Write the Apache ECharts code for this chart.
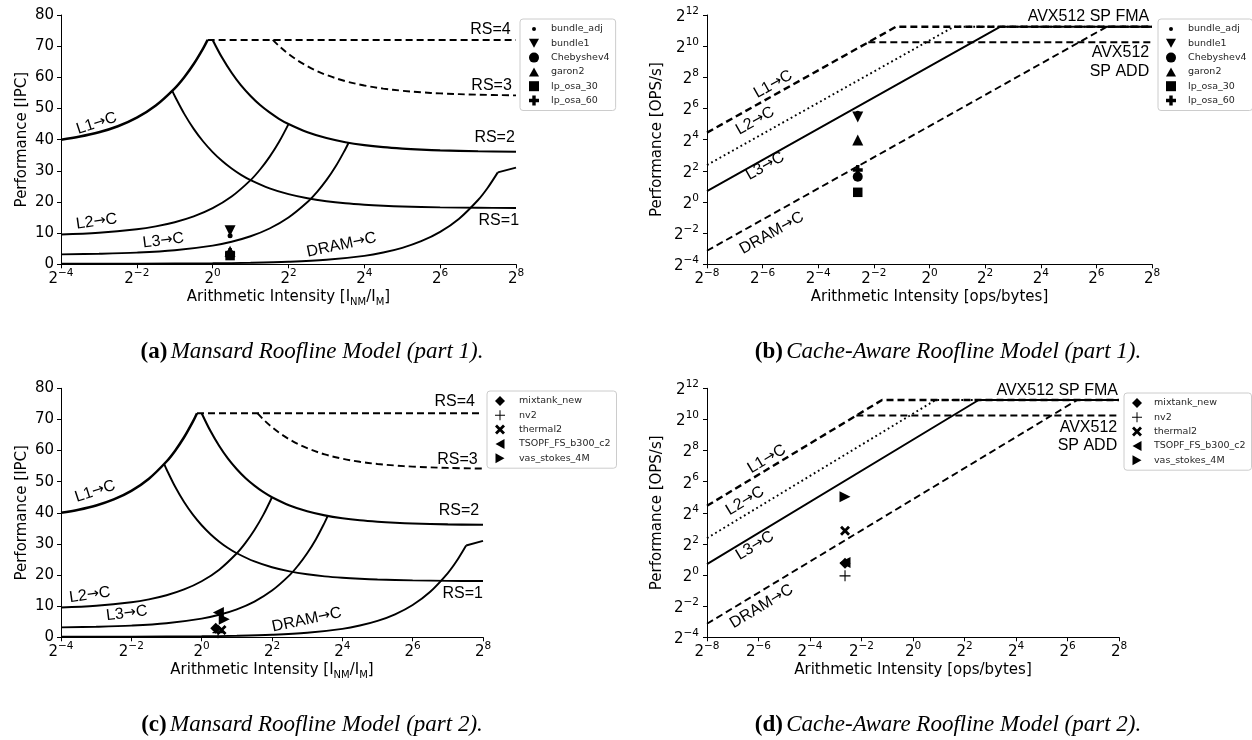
<!DOCTYPE html>
<html><head><meta charset="utf-8">
<script src="https://cdn.jsdelivr.net/npm/echarts@6/dist/echarts.min.js"></script>
<style>html,body{margin:0;padding:0;background:#fff}#c{width:1252px;height:740px}</style>
</head><body><div id="c"></div>
<script>
// ---------- Mansard roofline curves: [arithmetic intensity, IPC] ----------
const mL1 = [[0.0625,40.0],[0.0884,41.0],[0.125,42.36],[0.1768,44.3],[0.25,47.06],[0.3536,50.96],[0.5,56.48],[0.595,60.05],[0.7071,64.27],[0.841,69.3],[0.912,72.0]];
const mL2 = [[0.0625,9.56],[0.125,10.13],[0.25,11.25],[0.3536,12.18],[0.5,13.5],[0.7071,15.36],[1,18],[1.414,21.73],[2,27],[2.38,30.42],[2.83,34.47],[3.36,39.24],[4,45]];
const mL3 = [[0.0625,3.19],[0.125,3.38],[0.25,3.75],[0.5,4.5],[1,6],[1.414,7.24],[2,9],[2.83,11.49],[4,15],[5.66,19.97],[6.73,23.19],[8,27],[9.51,31.53],[11.31,36.93],[12,39]];
const mDRAM = [[0.0625,0.17],[0.25,0.2],[1,0.32],[2,0.48],[4,0.8],[8,1.44],[16,2.72],[22.6,3.78],[32,5.28],[45.25,7.4],[64,10.4],[90.5,14.64],[128,20.64],[152.2,24.5],[183.5,29.5]];
const mDRAMtail = [[183.5,29.5],[256,31]];
const mRS1 = [[0.478,55.65],[0.5,54],[0.595,48.27],[0.7071,43.46],[0.841,39.4],[1,36],[1.19,33.13],[1.414,30.73],[1.68,28.7],[2,27],[2.83,24.36],[4,22.5],[5.66,21.18],[8,20.25],[11.31,19.59],[16,19.13],[22.6,18.8],[32,18.56],[64,18.28],[128,18.14],[256,18.07]];
const mRS2 = [[1,72],[1.19,66.25],[1.414,61.46],[1.68,57.4],[2,54],[2.38,51.1],[2.83,48.73],[3.36,46.7],[4,45],[5.66,42.36],[8,40.5],[11.31,39.18],[16,38.25],[22.6,37.59],[32,37.13],[45.25,36.8],[64,36.56],[128,36.28],[256,36.14]];
const mRS3 = [[3,72],[3.364,70.05],[4,67.5],[4.76,65.34],[5.66,63.55],[6.73,62.02],[8,60.75],[11.31,58.77],[16,57.38],[22.6,56.39],[32,55.69],[45.25,55.19],[64,54.84],[128,54.42],[256,54.21]];
const mRS4 = [[0.912,72],[256,72]];

// ---------- Cache-aware roofline lines: [log2 AI, log2 perf] ----------
const cL1 = [[-8,4.45],[-1.2,11.25],[8,11.25]];
const cL2 = [[-8,2.37],[0.88,11.25],[8,11.25]];
const cL3 = [[-8,0.7],[2.55,11.25],[8,11.25]];
const cDRAM = [[-8,-3.13],[6.38,11.25],[8,11.25]];
const cADD = [[-2.2,10.25],[8,10.25]];

// ---------- Matrices (part 1) ----------
const names1 = ['bundle_adj','bundle1','Chebyshev4','garon2','lp_osa_30','lp_osa_60'];
const mansard1 = [[1.375,9.2],[1.375,10.8],[1.375,3.0],[1.375,4.2],[1.375,2.8],[1.375,3.6]];   // [AI, IPC]
const carm1 = [[-2.58,5.7],[-2.58,5.45],[-2.58,1.62],[-2.58,3.98],[-2.58,0.62],[-2.58,2.05]];    // [log2 AI, log2 perf]
// ---------- Matrices (part 2) ----------
const names2 = ['mixtank_new','nv2','thermal2','TSOPF_FS_b300_c2','vas_stokes_4M'];
const mansard2 = [[1.32,2.9],[1.38,1.5],[1.48,2.35],[1.39,8.0],[1.56,5.8]];
const carm2 = [[-2.64,0.76],[-2.64,-0.05],[-2.64,2.85],[-2.64,0.8],[-2.64,5.03]];

// tick exponents / values
const xTicksMansard = [-4,-2,0,2,4,6,8];
const xTicksCarm = [-8,-6,-4,-2,0,2,4,6,8];
const yTicksCarm = [-4,-2,0,2,4,6,8,10,12];
const yTicksMansard = [0,10,20,30,40,50,60,70,80];

// text annotations: [text, x, y, rotation deg, align]  (Mansard x = log2 AI, y = IPC; CARM both log2)
const labA = [['L1→C',-3.06,45.2,18,'center'],['L2→C',-3.06,13.7,8,'center'],['L3→C',-1.3,7.6,7,'center'],['DRAM→C',3.4,6.2,12,'center'],
  ['RS=4',7.86,75.4,0,'right'],['RS=3',7.89,57.2,0,'right'],['RS=2',7.97,40.6,0,'right'],['RS=1',8.08,14.0,0,'right']];
const labC = [['L1→C',-3.03,46.9,18,'center'],['L2→C',-3.18,13.6,8,'center'],['L3→C',-2.13,7.7,7,'center'],['DRAM→C',2.99,5.6,12,'center'],
  ['RS=4',7.77,75.7,0,'right'],['RS=3',7.85,57.2,0,'right'],['RS=2',7.89,40.7,0,'right'],['RS=1',8.0,13.9,0,'right']];
const labB = [['L1→C',-5.62,7.55,29.3,'center'],['L2→C',-6.27,5.2,29.3,'center'],['L3→C',-5.91,2.3,29.3,'center'],['DRAM→C',-5.67,-2.0,29.3,'center'],
  ['AVX512 SP FMA',7.9,11.89,0,'right'],['AVX512',7.9,9.58,0,'right'],['SP ADD',7.9,8.36,0,'right']];
const labD = [['L1→C',-5.68,7.45,31,'center'],['L2→C',-6.52,4.76,31,'center'],['L3→C',-6.14,1.88,31,'center'],['DRAM→C',-5.88,-2.02,31,'center'],
  ['AVX512 SP FMA',7.96,11.83,0,'right'],['AVX512',7.93,9.49,0,'right'],['SP ADD',7.93,8.29,0,'right']];

const captions = [['(a)','Mansard Roofline Model (part 1).',312,352],['(b)','Cache-Aware Roofline Model (part 1).',948,352],
  ['(c)','Mansard Roofline Model (part 2).',312,725],['(d)','Cache-Aware Roofline Model (part 2).',948,725]];

// ---------- symbols ----------
const SYM = {
  dot: 'circle',
  dotIcon: 'path://M0,0L0.01,0L0.01,0.01Z M10,10L9.99,10L9.99,9.99Z M3,5A2,2,0,1,0,7,5A2,2,0,1,0,3,5Z',
  tdown: 'path://M0,0L10,0L5,9Z',
  circ: 'circle',
  tup: 'path://M5,0L10,9L0,9Z',
  sq: 'rect',
  plusF: 'path://M3.3,0H6.7V3.3H10V6.7H6.7V10H3.3V6.7H0V3.3H3.3Z',
  diam: 'path://M5,0L10,5L5,10L0,5Z',
  plusT: 'path://M4.5,0H5.5V4.5H10V5.5H5.5V10H4.5V5.5H0V4.5H4.5Z',
  xF: 'path://M0,2L2,0L5,3L8,0L10,2L7,5L10,8L8,10L5,7L2,10L0,8L3,5Z',
  tleft: 'path://M10,0L10,10L1,5Z',
  tright: 'path://M0,0L0,10L9,5Z'
};
const sym1 = [['dot',5,'dotIcon'],['tdown',11,'tdown'],['circ',10,'circ'],['tup',11,'tup'],['sq',9.5,'sq'],['plusF',10,'plusF']];
const sym2 = [['diam',11,'diam'],['plusT',11,'plusT'],['xF',10,'xF'],['tleft',11,'tleft'],['tright',11,'tright']];

const P2 = e => Math.pow(2, e);
const FONT = '"DejaVu Sans", sans-serif';
const SANS = '"Liberation Sans", "DejaVu Sans", sans-serif';
const fmtExp = e => (e < 0 ? '\u2212' + (-e) : String(e));
const powLabel = v => '{b|2}{s|' + fmtExp(Math.round(Math.log2(v))) + '}';
const powRich = {
  b: {fontSize: 15, fontFamily: FONT, color: '#000', lineHeight: 19, verticalAlign: 'bottom'},
  s: {fontSize: 10.5, fontFamily: FONT, color: '#000', lineHeight: 11, verticalAlign: 'top'}
};

const grids = [
  {left: 61, top: 15, width: 455, height: 249.3},
  {left: 707, top: 15, width: 445, height: 249.3},
  {left: 61, top: 388.3, width: 422, height: 249},
  {left: 707, top: 388.3, width: 412, height: 249}
];

const axisCommon = {
  axisLine: {show: true, lineStyle: {color: '#000', width: 1}},
  axisTick: {show: true, inside: false, length: 4, lineStyle: {color: '#000', width: 1}},
  splitLine: {show: false},
  nameTextStyle: {fontSize: 15, fontFamily: FONT, color: '#000'}
};
const subRich = {
  s: {fontSize: 10, fontFamily: FONT, color: '#000', verticalAlign: 'bottom', lineHeight: 14, padding: [6, 0, 0, 0]},
  n: {fontSize: 15, fontFamily: FONT, color: '#000', lineHeight: 20, verticalAlign: 'middle'}
};
function xMansard(i) {
  return Object.assign({}, axisCommon, {gridIndex: i, type: 'log', logBase: 2, min: P2(xTicksMansard[0]), max: P2(xTicksMansard[xTicksMansard.length-1]), interval: 2,
    name: '{n|Arithmetic Intensity [I}{s|NM}{n|/I}{s|M}{n|]}', nameLocation: 'middle', nameGap: 23,
    nameTextStyle: {rich: subRich},
    axisLabel: {formatter: powLabel, rich: powRich, margin: 3}});
}
function xCarm(i) {
  return Object.assign({}, axisCommon, {gridIndex: i, type: 'log', logBase: 2, min: P2(xTicksCarm[0]), max: P2(xTicksCarm[xTicksCarm.length-1]), interval: 2,
    name: 'Arithmetic Intensity [ops/bytes]', nameLocation: 'middle', nameGap: 25,
    axisLabel: {formatter: powLabel, rich: powRich, margin: 3}});
}
function yMansard(i) {
  return Object.assign({}, axisCommon, {gridIndex: i, type: 'value', min: yTicksMansard[0], max: yTicksMansard[yTicksMansard.length-1], interval: 10,
    name: 'Performance [IPC]', nameLocation: 'middle', nameGap: 31,
    axisLabel: {fontSize: 15, fontFamily: FONT, color: '#000', margin: 7}});
}
function yCarm(i) {
  return Object.assign({}, axisCommon, {gridIndex: i, type: 'log', logBase: 2, min: P2(yTicksCarm[0]), max: P2(yTicksCarm[yTicksCarm.length-1]), interval: 2,
    name: 'Performance [OPS/s]', nameLocation: 'middle', nameGap: 42,
    axisLabel: {formatter: powLabel, rich: powRich, margin: 8}});
}

const series = [];
function line(g, data, width, type, smooth) {
  series.push({type: 'line', xAxisIndex: g, yAxisIndex: g, data: data, showSymbol: false, symbol: 'none',
    smooth: smooth ? 0.35 : false, lineStyle: {color: '#000', width: width, type: type}, z: 2, silent: true});
}
const DASH = [7, 4], DOT = [1.8, 3];
[0, 2].forEach(g => {
  line(g, mL1, 2.5, 'solid', true);
  line(g, mL2, 1.9, 'solid', true);
  line(g, mL3, 1.9, 'solid', true);
  line(g, mDRAM, 1.9, 'solid', true);
  line(g, mDRAMtail, 1.9, 'solid', false);
  line(g, mRS1, 1.9, 'solid', true);
  line(g, mRS2, 2.1, 'solid', true);
  line(g, mRS3, 1.9, DASH, true);
  line(g, mRS4, 1.9, DASH, false);
});
const toP = arr => arr.map(p => [P2(p[0]), P2(p[1])]);
[1, 3].forEach(g => {
  line(g, toP(cL1), 2.4, DASH, false);
  line(g, toP(cL2), 1.9, DOT, false);
  line(g, toP(cL3), 1.9, 'solid', false);
  line(g, toP(cDRAM), 1.9, DASH, false);
  line(g, toP(cADD), 1.9, DASH, false);
});
function scat(g, name, pt, s) {
  series.push({type: 'scatter', name: name, xAxisIndex: g, yAxisIndex: g, data: [pt], symbol: SYM[s[0]], symbolSize: s[1],
    itemStyle: {color: '#000', opacity: 1}, z: 5});
}
names1.forEach((n, i) => { scat(0, n, mansard1[i], sym1[i]); scat(1, n, [P2(carm1[i][0]), P2(carm1[i][1])], sym1[i]); });
names2.forEach((n, i) => { scat(2, n, mansard2[i], sym2[i]); scat(3, n, [P2(carm2[i][0]), P2(carm2[i][1])], sym2[i]); });

function legend(names, syms, left, top, padL, textPad) {
  return {left: left, top: top, orient: 'vertical', itemGap: 4.3, itemWidth: 10, itemHeight: 10, padding: [5, 6, 5, padL],
    borderColor: '#ccc', borderWidth: 1, borderRadius: 3, backgroundColor: '#fff', selectedMode: false,
    textStyle: {fontSize: 9.5, fontFamily: FONT, color: '#262626', padding: [0, 0, 0, textPad]},
    data: names.map((n, i) => ({name: n, icon: SYM[syms[i][2]], itemStyle: {color: '#000'}}))};
}

const option = {
  animation: false,
  backgroundColor: '#fff',
  grid: grids,
  xAxis: [xMansard(0), xCarm(1), xMansard(2), xCarm(3)],
  yAxis: [yMansard(0), yCarm(1), yMansard(2), yCarm(3)],
  legend: [legend(names1, sym1, 520, 19, 9, 7), legend(names1, sym1, 1158, 19, 8, 7),
           legend(names2, sym2, 487, 391, 8, 9), legend(names2, sym2, 1124, 393, 8, 7)],
  series: series
};
const chart = echarts.init(document.getElementById('c'), null, {renderer: 'canvas'});
chart.setOption(option);

const gfx = [];
const labRich = {
  n: {fontSize: 16, fontFamily: SANS, fill: '#000'},
  a: {fontSize: 14.5, fontFamily: FONT, fill: '#000'}
};
function addLabels(g, labs, mansard) {
  labs.forEach(L => {
    const xv = P2(L[1]);
    const yv = mansard ? L[2] : P2(L[2]);
    const p = chart.convertToPixel({gridIndex: g}, [xv, yv]);
    const txt = L[0].split('→').map(s => '{n|' + s + '}').join('{a|→}');
    gfx.push({type: 'text', x: p[0], y: p[1], rotation: L[3] * Math.PI / 180, silent: true, z: 10,
      style: {text: txt, rich: labRich, fill: '#000', textAlign: L[4], textVerticalAlign: 'middle'}});
  });
}
addLabels(0, labA, true); addLabels(1, labB, false); addLabels(2, labC, true); addLabels(3, labD, false);
captions.forEach(c => {
  gfx.push({type: 'text', x: c[2], y: c[3], silent: true,
    style: {text: '{b|' + c[0] + '} {i|' + c[1] + '}', textAlign: 'center', textVerticalAlign: 'middle', fill: '#000',
      rich: {b: {fontSize: 23, fontWeight: 'bold', fontFamily: '"Liberation Serif", serif', fill: '#000'},
             i: {fontSize: 23, fontStyle: 'italic', fontFamily: '"Liberation Serif", serif', fill: '#000'}}}});
});
chart.setOption({graphic: gfx});
</script></body></html>
